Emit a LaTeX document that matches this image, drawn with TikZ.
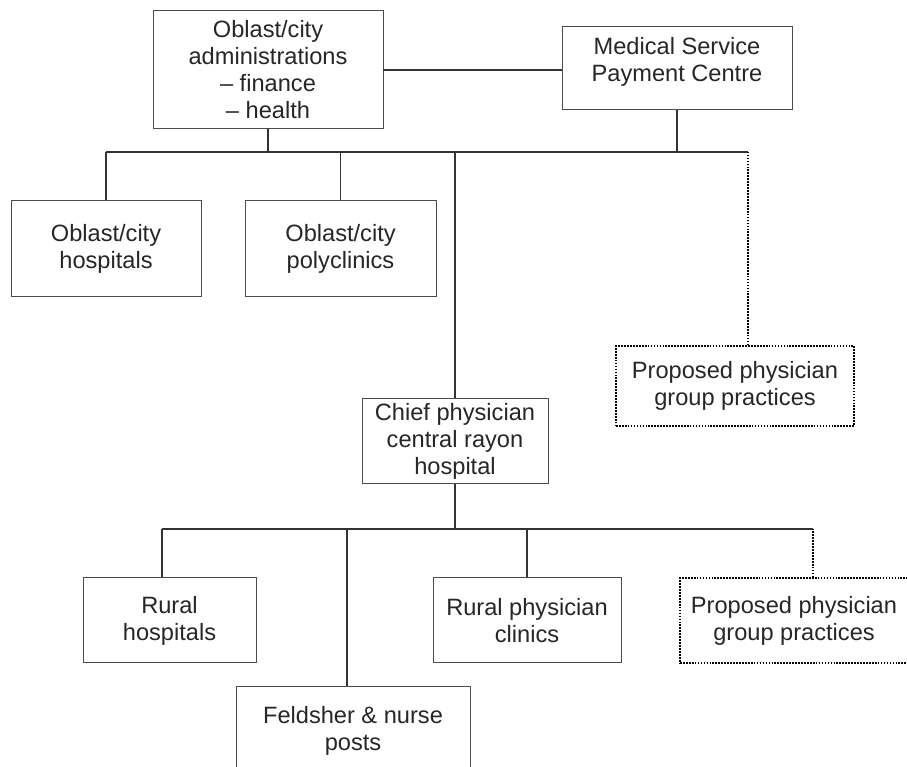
\documentclass[tikz,border=0pt]{standalone}
\usepackage{fontspec}
\setmainfont{Liberation Sans}
\begin{document}
\begin{tikzpicture}[
	unit/.style={draw=black!70, line width=0.7pt, align=center, inner sep=0pt, text=black!85,
		font=\fontsize{16.8}{19.2}\selectfont},
	plan/.style={unit, draw=black, line width=0.9pt, dash pattern=on 1.2pt off 0.9pt},
	link/.style={draw=black!80, line width=0.9pt},
	planlink/.style={draw=black, line width=0.9pt, dash pattern=on 1.2pt off 0.9pt}]
	%\draw[lightgray] (0,0) grid (22,19);
	\useasboundingbox (0,0) rectangle (22.675,19.175);
	\clip (0,0) rectangle (22.675,19.175);
	\coordinate (top) at (0,15.375);
	\coordinate (low) at (0,5.95);

	\node[unit, minimum width=5.75cm, minimum height=2.95cm] (adm) at (6.7,17.425)
		{Oblast/city\\administrations\\-- finance\\-- health};
	\node[unit, minimum width=5.75cm, minimum height=2.075cm, text depth=0.47cm] (pay) at (16.925,17.4625)
		{Medical Service\\Payment Centre};
	\node[unit, minimum width=4.75cm, minimum height=2.4cm] (hosp) at (2.65,12.95)
		{Oblast/city\\hospitals};
	\node[unit, minimum width=4.775cm, minimum height=2.4cm] (poly) at (8.5125,12.95)
		{Oblast/city\\polyclinics};
	\node[plan, minimum width=5.95cm, minimum height=2cm] (prop1) at (18.375,9.525)
		{Proposed physician\\group practices};
	\node[unit, minimum width=4.65cm, minimum height=2.125cm] (chief) at (11.375,8.1375)
		{Chief physician\\central rayon\\hospital};
	\node[unit, minimum width=4.325cm, minimum height=2.125cm] (rhosp) at (4.2375,3.6625)
		{Rural\\hospitals};
	\node[unit, minimum width=5.85cm, minimum height=2.2cm] (feld) at (8.825,0.9)
		{Feldsher \& nurse\\posts};
	\node[unit, minimum width=4.7cm, minimum height=2.125cm] (clin) at (13.175,3.6625)
		{Rural physician\\clinics};
	\node[plan, minimum width=5.7cm, minimum height=2.125cm] (prop2) at (19.85,3.6625)
		{Proposed physician\\group practices};

	% upper level
	\draw[link] (adm.east) -- (adm.east -| pay.west);
	\draw[link] (adm.south) -- (adm.south |- top);
	\draw[link] (pay.south) -- (pay.south |- top);
	\draw[link] (hosp.north |- top) -- ([xshift=0.325cm]prop1.north |- top);
	\draw[link] (hosp.north) -- (hosp.north |- top);
	\draw[link] (poly.north) -- (poly.north |- top);
	\draw[link] (chief.north) -- (chief.north |- top);
	\draw[planlink] ([xshift=0.325cm]prop1.north) -- ([xshift=0.325cm]prop1.north |- top);

	% rayon level
	\draw[link] (chief.south) -- (chief.south |- low);
	\draw[link] ([xshift=-0.19cm]rhosp.north |- low) -- ([xshift=0.475cm]prop2.north |- low);
	\draw[link] ([xshift=-0.19cm]rhosp.north) -- ([xshift=-0.19cm]rhosp.north |- low);
	\draw[link] ([xshift=-0.15cm]feld.north) -- ([xshift=-0.15cm]feld.north |- low);
	\draw[link] (clin.north) -- (clin.north |- low);
	\draw[planlink] ([xshift=0.475cm]prop2.north) -- ([xshift=0.475cm]prop2.north |- low);

\end{tikzpicture}
\end{document}
